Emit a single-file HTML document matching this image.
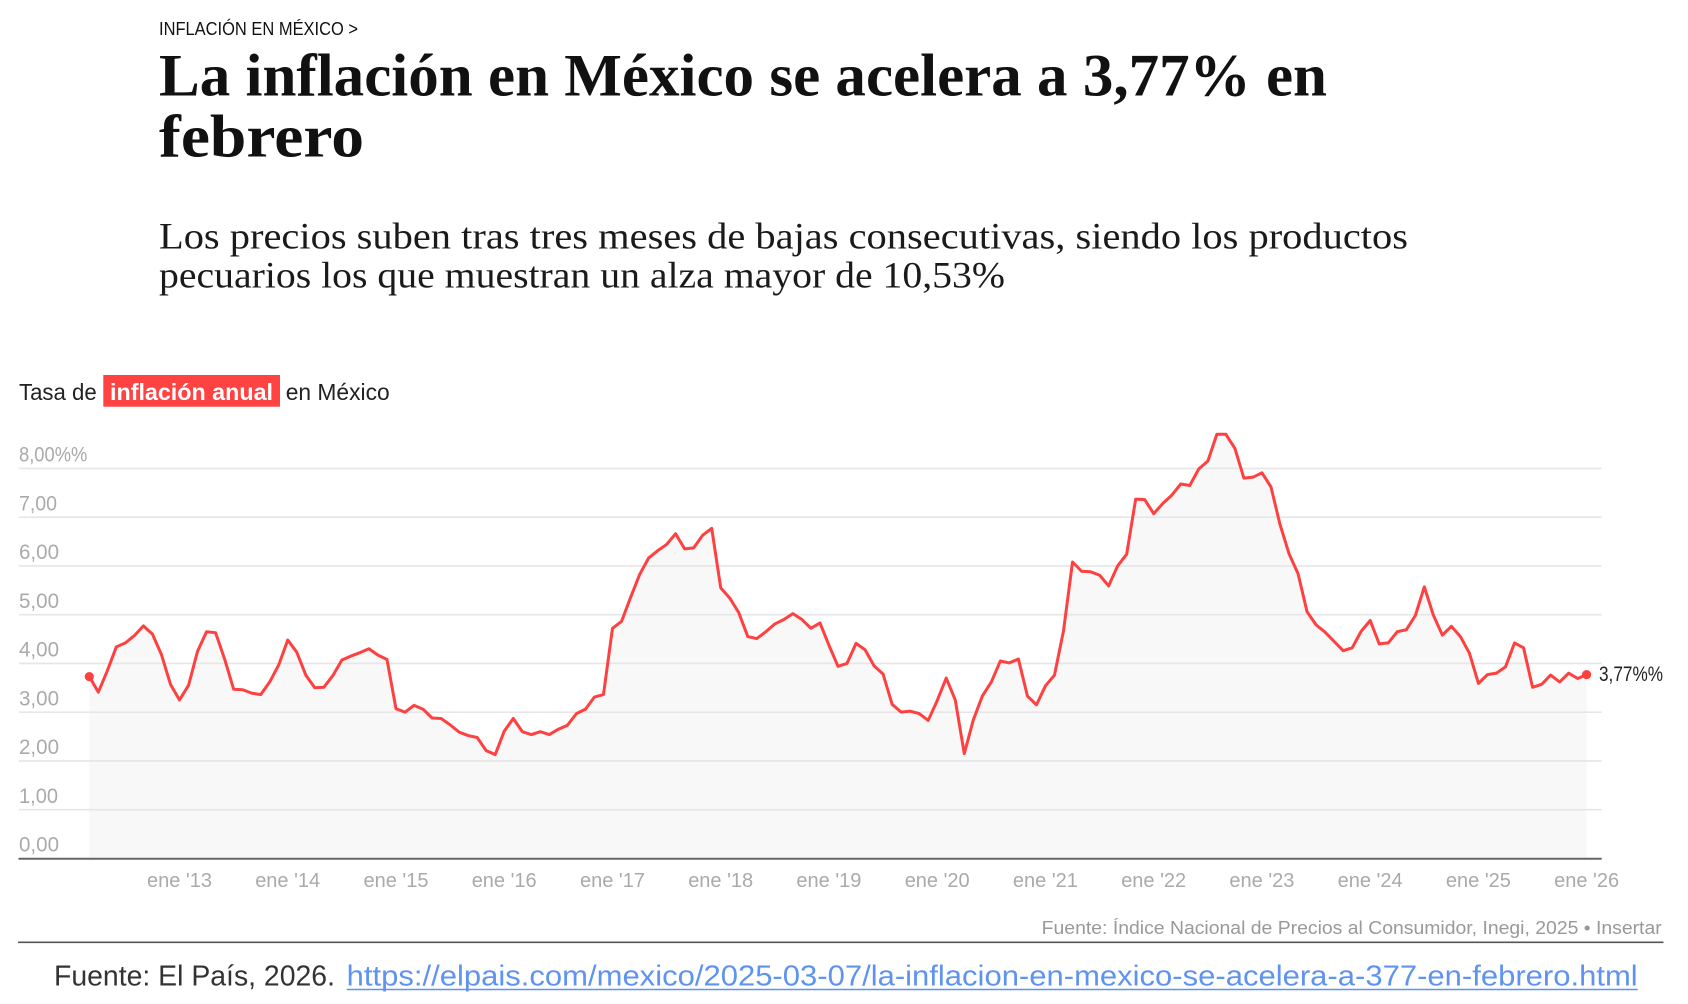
<!DOCTYPE html>
<html>
<head>
<meta charset="utf-8">
<style>
html,body{margin:0;padding:0;background:#fff;}
svg{display:block;}
</style>
</head>
<body>
<svg width="1688" height="1004" viewBox="0 0 1688 1004" xmlns="http://www.w3.org/2000/svg">
<rect width="1688" height="1004" fill="#fff"/>

<!-- Header -->
<text x="159" y="35" font-family="Liberation Sans, sans-serif" font-size="18" fill="#111" textLength="199" lengthAdjust="spacingAndGlyphs">INFLACIÓN EN MÉXICO &gt;</text>
<text x="159" y="95.7" font-family="Liberation Serif, serif" font-weight="bold" font-size="60" fill="#111" textLength="1168" lengthAdjust="spacingAndGlyphs">La inflación en México se acelera a 3,77% en</text>
<text x="159" y="156.7" font-family="Liberation Serif, serif" font-weight="bold" font-size="60" fill="#111" textLength="205" lengthAdjust="spacingAndGlyphs">febrero</text>
<text x="159" y="248.3" font-family="Liberation Serif, serif" font-size="37" fill="#1a1a1a" textLength="1249" lengthAdjust="spacingAndGlyphs">Los precios suben tras tres meses de bajas consecutivas, siendo los productos</text>
<text x="159" y="287.5" font-family="Liberation Serif, serif" font-size="37" fill="#1a1a1a" textLength="846" lengthAdjust="spacingAndGlyphs">pecuarios los que muestran un alza mayor de 10,53%</text>

<!-- Chart title -->
<text x="19" y="400" font-family="Liberation Sans, sans-serif" font-size="23" fill="#222" textLength="77.7" lengthAdjust="spacingAndGlyphs">Tasa de</text>
<rect x="103.3" y="375" width="176.7" height="31.7" fill="#ff4343"/>
<text x="110" y="400" font-family="Liberation Sans, sans-serif" font-weight="bold" font-size="23" fill="#fff" textLength="163" lengthAdjust="spacingAndGlyphs">inflación anual</text>
<text x="285.7" y="400" font-family="Liberation Sans, sans-serif" font-size="23" fill="#222" textLength="104" lengthAdjust="spacingAndGlyphs">en México</text>

<!-- Area fill -->
<g transform="translate(89.3,858.4) scale(9.0205,-48.75)">
<polygon fill="#f8f8f8" points="0,0 0,3.73 1,3.41 2,3.85 3,4.34 4,4.42 5,4.57 6,4.77 7,4.60 8,4.18 9,3.57 10,3.25 11,3.55 12,4.25 13,4.65 14,4.63 15,4.09 16,3.47 17,3.46 18,3.39 19,3.36 20,3.62 21,3.97 22,4.48 23,4.23 24,3.76 25,3.50 26,3.51 27,3.75 28,4.07 29,4.15 30,4.22 31,4.30 32,4.17 33,4.08 34,3.07 35,3.00 36,3.14 37,3.06 38,2.88 39,2.87 40,2.74 41,2.59 42,2.52 43,2.48 44,2.21 45,2.13 46,2.61 47,2.87 48,2.60 49,2.54 50,2.60 51,2.54 52,2.65 53,2.73 54,2.97 55,3.06 56,3.31 57,3.36 58,4.72 59,4.86 60,5.35 61,5.82 62,6.16 63,6.31 64,6.44 65,6.66 66,6.35 67,6.37 68,6.63 69,6.77 70,5.55 71,5.34 72,5.04 73,4.55 74,4.51 75,4.65 76,4.81 77,4.90 78,5.02 79,4.90 80,4.72 81,4.83 82,4.37 83,3.94 84,4.00 85,4.41 86,4.28 87,3.95 88,3.78 89,3.16 90,3.00 91,3.02 92,2.97 93,2.83 94,3.24 95,3.70 96,3.25 97,2.15 98,2.84 99,3.33 100,3.62 101,4.05 102,4.01 103,4.09 104,3.33 105,3.15 106,3.54 107,3.76 108,4.67 109,6.08 110,5.89 111,5.88 112,5.81 113,5.59 114,6.00 115,6.24 116,7.37 117,7.36 118,7.07 119,7.28 120,7.45 121,7.68 122,7.65 123,7.99 124,8.15 125,8.70 126,8.70 127,8.41 128,7.80 129,7.82 130,7.91 131,7.62 132,6.85 133,6.25 134,5.84 135,5.06 136,4.79 137,4.64 138,4.45 139,4.26 140,4.32 141,4.66 142,4.88 143,4.40 144,4.42 145,4.65 146,4.69 147,4.98 148,5.57 149,4.99 150,4.58 151,4.76 152,4.55 153,4.21 154,3.59 155,3.77 156,3.80 157,3.93 158,4.42 159,4.32 160,3.51 161,3.57 162,3.76 163,3.62 164,3.80 165,3.69 166,3.77 166,0"/>
</g>

<!-- Gridlines -->
<g stroke="#e6e6e6" stroke-width="1.6">
<line x1="19" y1="468.4" x2="1601.7" y2="468.4"/>
<line x1="19" y1="517.15" x2="1601.7" y2="517.15"/>
<line x1="19" y1="565.9" x2="1601.7" y2="565.9"/>
<line x1="19" y1="614.65" x2="1601.7" y2="614.65"/>
<line x1="19" y1="663.4" x2="1601.7" y2="663.4"/>
<line x1="19" y1="712.15" x2="1601.7" y2="712.15"/>
<line x1="19" y1="760.9" x2="1601.7" y2="760.9"/>
<line x1="19" y1="809.65" x2="1601.7" y2="809.65"/>
</g>
<line x1="18.5" y1="858.8" x2="1601.7" y2="858.8" stroke="#666" stroke-width="2"/>

<!-- Y labels -->
<g font-family="Liberation Sans, sans-serif" font-size="21" fill="#aaa">
<text x="19" y="461.7" textLength="68.3" lengthAdjust="spacingAndGlyphs">8,00%%</text>
<text x="19" y="510.5" textLength="38" lengthAdjust="spacingAndGlyphs">7,00</text>
<text x="19" y="559.2" textLength="40" lengthAdjust="spacingAndGlyphs">6,00</text>
<text x="19" y="608" textLength="40" lengthAdjust="spacingAndGlyphs">5,00</text>
<text x="19" y="656.7" textLength="40" lengthAdjust="spacingAndGlyphs">4,00</text>
<text x="19" y="705.5" textLength="40" lengthAdjust="spacingAndGlyphs">3,00</text>
<text x="19" y="754.2" textLength="40" lengthAdjust="spacingAndGlyphs">2,00</text>
<text x="19" y="803" textLength="39" lengthAdjust="spacingAndGlyphs">1,00</text>
<text x="19" y="851.7" textLength="40" lengthAdjust="spacingAndGlyphs">0,00</text>
</g>

<!-- X labels -->
<g font-family="Liberation Sans, sans-serif" font-size="20" fill="#aaa" text-anchor="middle">
<text x="179.5" y="887">ene '13</text>
<text x="287.7" y="887">ene '14</text>
<text x="396" y="887">ene '15</text>
<text x="504.2" y="887">ene '16</text>
<text x="612.5" y="887">ene '17</text>
<text x="720.7" y="887">ene '18</text>
<text x="828.9" y="887">ene '19</text>
<text x="937.2" y="887">ene '20</text>
<text x="1045.4" y="887">ene '21</text>
<text x="1153.7" y="887">ene '22</text>
<text x="1261.9" y="887">ene '23</text>
<text x="1370.1" y="887">ene '24</text>
<text x="1478.4" y="887">ene '25</text>
<text x="1586.6" y="887">ene '26</text>
</g>

<!-- Line -->
<g transform="translate(89.3,858.4) scale(9.0205,-48.75)">
<polyline fill="none" stroke="#ff4040" stroke-width="3" vector-effect="non-scaling-stroke" stroke-linejoin="round" stroke-linecap="round" points="0,3.73 1,3.41 2,3.85 3,4.34 4,4.42 5,4.57 6,4.77 7,4.60 8,4.18 9,3.57 10,3.25 11,3.55 12,4.25 13,4.65 14,4.63 15,4.09 16,3.47 17,3.46 18,3.39 19,3.36 20,3.62 21,3.97 22,4.48 23,4.23 24,3.76 25,3.50 26,3.51 27,3.75 28,4.07 29,4.15 30,4.22 31,4.30 32,4.17 33,4.08 34,3.07 35,3.00 36,3.14 37,3.06 38,2.88 39,2.87 40,2.74 41,2.59 42,2.52 43,2.48 44,2.21 45,2.13 46,2.61 47,2.87 48,2.60 49,2.54 50,2.60 51,2.54 52,2.65 53,2.73 54,2.97 55,3.06 56,3.31 57,3.36 58,4.72 59,4.86 60,5.35 61,5.82 62,6.16 63,6.31 64,6.44 65,6.66 66,6.35 67,6.37 68,6.63 69,6.77 70,5.55 71,5.34 72,5.04 73,4.55 74,4.51 75,4.65 76,4.81 77,4.90 78,5.02 79,4.90 80,4.72 81,4.83 82,4.37 83,3.94 84,4.00 85,4.41 86,4.28 87,3.95 88,3.78 89,3.16 90,3.00 91,3.02 92,2.97 93,2.83 94,3.24 95,3.70 96,3.25 97,2.15 98,2.84 99,3.33 100,3.62 101,4.05 102,4.01 103,4.09 104,3.33 105,3.15 106,3.54 107,3.76 108,4.67 109,6.08 110,5.89 111,5.88 112,5.81 113,5.59 114,6.00 115,6.24 116,7.37 117,7.36 118,7.07 119,7.28 120,7.45 121,7.68 122,7.65 123,7.99 124,8.15 125,8.70 126,8.70 127,8.41 128,7.80 129,7.82 130,7.91 131,7.62 132,6.85 133,6.25 134,5.84 135,5.06 136,4.79 137,4.64 138,4.45 139,4.26 140,4.32 141,4.66 142,4.88 143,4.40 144,4.42 145,4.65 146,4.69 147,4.98 148,5.57 149,4.99 150,4.58 151,4.76 152,4.55 153,4.21 154,3.59 155,3.77 156,3.80 157,3.93 158,4.42 159,4.32 160,3.51 161,3.57 162,3.76 163,3.62 164,3.80 165,3.69 166,3.77"/>
</g>
<circle cx="89.3" cy="676.6" r="4.6" fill="#ff4040"/>
<circle cx="1586.6" cy="674.6" r="4.6" fill="#ff4040"/>
<text x="1599" y="681" font-family="Liberation Sans, sans-serif" font-size="21" fill="#222" textLength="64" lengthAdjust="spacingAndGlyphs">3,77%%</text>

<!-- Source -->
<text x="1041.7" y="934" font-family="Liberation Sans, sans-serif" font-size="18" fill="#999" textLength="620" lengthAdjust="spacingAndGlyphs">Fuente: Índice Nacional de Precios al Consumidor, Inegi, 2025  • Insertar</text>
<line x1="18" y1="942.3" x2="1663.5" y2="942.3" stroke="#555" stroke-width="1.6"/>

<!-- Footer -->
<text x="54" y="985.7" font-family="Liberation Sans, sans-serif" font-size="29" fill="#333" textLength="281" lengthAdjust="spacingAndGlyphs">Fuente: El País, 2026.</text>
<text x="346.7" y="985.7" font-family="Liberation Sans, sans-serif" font-size="29" fill="#5f93f0" textLength="1291" lengthAdjust="spacingAndGlyphs">https://elpais.com/mexico/2025-03-07/la-inflacion-en-mexico-se-acelera-a-377-en-febrero.html</text>
<line x1="346.7" y1="989.5" x2="1637.7" y2="989.5" stroke="#5f93f0" stroke-width="1.6"/>
</svg>
</body>
</html>
